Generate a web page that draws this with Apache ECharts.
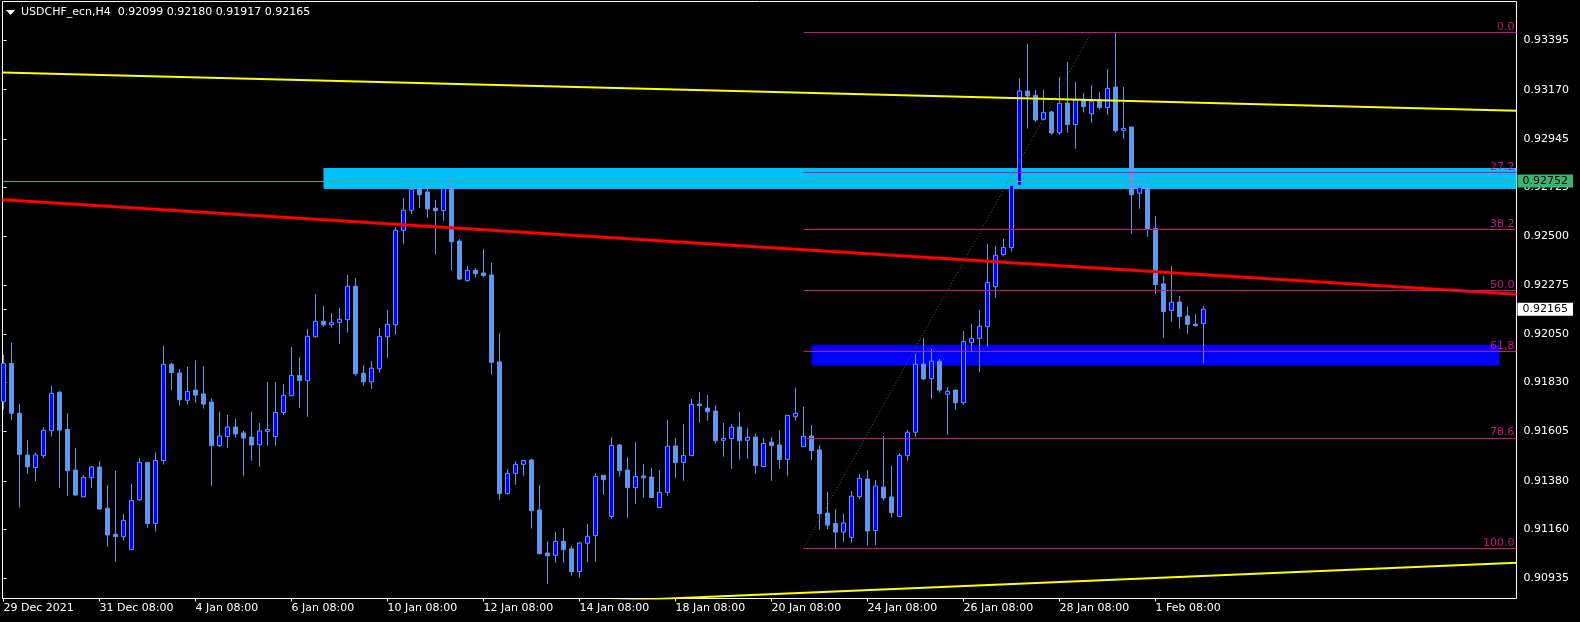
<!DOCTYPE html>
<html><head><meta charset="utf-8">
<script src="https://cdn.jsdelivr.net/npm/echarts@6/dist/echarts.min.js"></script>
<style>html,body{margin:0;padding:0;background:#000;}#c{width:1580px;height:622px;}</style>
</head><body><div id="c"></div>
<script>
// ---------------- DATA ----------------
const symbolTitle = 'USDCHF_ecn,H4';
// x-axis tick labels (every 12th H4 bar)
const timeTickBars = [0, 12, 24, 36, 48, 60, 72, 84, 96, 108, 120, 132, 144];
const timeTickLabels = ['29 Dec 2021', '31 Dec 08:00', '4 Jan 08:00', '6 Jan 08:00', '10 Jan 08:00',
  '12 Jan 08:00', '14 Jan 08:00', '18 Jan 08:00', '20 Jan 08:00', '24 Jan 08:00',
  '26 Jan 08:00', '28 Jan 08:00', '1 Feb 08:00'];
// y-axis tick labels
const priceTicks = [0.93395, 0.93170, 0.92945, 0.92725, 0.92500, 0.92275, 0.92050,
  0.91830, 0.91605, 0.91380, 0.91160, 0.90935];

const opens = [0.91742,0.91917,0.91689,0.91498,0.91440,0.91495,0.91609,0.91785,0.91615,0.91429,
0.91307,0.91394,0.91443,0.91254,0.91135,0.91124,0.91066,0.91293,0.91464,0.91185,
0.91472,0.91913,0.91873,0.91748,0.91795,0.91777,0.91740,0.91541,0.91582,0.91626,
0.91599,0.91580,0.91545,0.91606,0.91582,0.91692,0.91769,0.91862,0.91838,0.92039,
0.92110,0.92094,0.92105,0.92117,0.92270,0.91872,0.91833,0.91893,0.92039,0.92094,
0.92526,0.92618,0.92718,0.92702,0.92628,0.92616,0.92721,0.92477,0.92297,0.92343,
0.92331,0.92322,0.91924,0.91322,0.91414,0.91455,0.91475,0.91246,0.91049,0.91039,
0.91103,0.91068,0.90964,0.91094,0.91129,0.91405,0.91217,0.91544,0.91429,0.91348,
0.91402,0.91397,0.91258,0.91327,0.91539,0.91464,0.91495,0.91731,0.91713,0.91699,
0.91565,0.91573,0.91626,0.91565,0.91580,0.91445,0.91557,0.91544,0.91478,0.91673,
0.91536,0.91585,0.91521,0.91232,0.91184,0.91145,0.91121,0.91307,0.91388,0.91152,
0.91351,0.91306,0.91217,0.91495,0.91602,0.91914,0.91847,0.91927,0.91776,0.91795,
0.91737,0.92012,0.92032,0.92085,0.92268,0.92415,0.92448,0.92732,0.93164,0.93144,
0.93034,0.93068,0.92973,0.93109,0.93010,0.93123,0.93060,0.93123,0.93088,0.93182,
0.92984,0.92999,0.92696,0.92722,0.92535,0.92281,0.92160,0.92198,0.92134,0.92097,
0.92099];
const highs = [0.91956,0.92012,0.91731,0.91566,0.91509,0.91624,0.91814,0.91791,0.91689,0.91530,
0.91406,0.91447,0.91470,0.91361,0.91425,0.91228,0.91365,0.91484,0.91466,0.91510,
0.91997,0.91920,0.91891,0.91901,0.91930,0.91905,0.91756,0.91696,0.91681,0.91663,
0.91608,0.91696,0.91644,0.91832,0.91832,0.91823,0.91992,0.91946,0.92075,0.92235,
0.92180,0.92148,0.92171,0.92322,0.92308,0.91910,0.91928,0.92079,0.92162,0.92540,
0.92674,0.92749,0.92729,0.92718,0.92665,0.92724,0.92787,0.92486,0.92363,0.92354,
0.92441,0.92377,0.92056,0.91434,0.91469,0.91475,0.91480,0.91361,0.91104,0.91145,
0.91164,0.91081,0.91100,0.91182,0.91414,0.91407,0.91580,0.91548,0.91489,0.91557,
0.91457,0.91438,0.91429,0.91658,0.91576,0.91640,0.91754,0.91786,0.91772,0.91727,
0.91644,0.91640,0.91695,0.91620,0.91594,0.91576,0.91580,0.91612,0.91681,0.91806,
0.91718,0.91635,0.91544,0.91329,0.91251,0.91228,0.91333,0.91411,0.91429,0.91383,
0.91585,0.91448,0.91506,0.91612,0.91960,0.92033,0.91983,0.91937,0.91809,0.91797,
0.92065,0.92097,0.92162,0.92464,0.92455,0.92487,0.92741,0.93222,0.93379,0.93169,
0.93169,0.93074,0.93228,0.93297,0.93205,0.93155,0.93191,0.93159,0.93265,0.93432,
0.93182,0.93001,0.92770,0.92743,0.92592,0.92320,0.92363,0.92226,0.92177,0.92143,
0.92180];
const lows = [0.91704,0.91658,0.91257,0.91411,0.91379,0.91484,0.91582,0.91348,0.91312,0.91312,
0.91305,0.91348,0.91246,0.91078,0.91010,0.91106,0.91064,0.91289,0.91165,0.91147,
0.91454,0.91795,0.91724,0.91728,0.91737,0.91710,0.91357,0.91534,0.91531,0.91577,
0.91403,0.91472,0.91444,0.91541,0.91541,0.91681,0.91767,0.91714,0.91673,0.92035,
0.92085,0.92081,0.92007,0.92058,0.91861,0.91815,0.91801,0.91875,0.91943,0.92049,
0.92465,0.92602,0.92628,0.92583,0.92415,0.92570,0.92342,0.92299,0.92291,0.92310,
0.92310,0.91866,0.91293,0.91316,0.91362,0.91403,0.91161,0.91044,0.90909,0.91005,
0.91005,0.90946,0.90936,0.91007,0.91010,0.91316,0.91206,0.91399,0.91211,0.91275,
0.91303,0.91301,0.91256,0.91312,0.91394,0.91380,0.91493,0.91646,0.91655,0.91550,
0.91490,0.91435,0.91477,0.91481,0.91412,0.91441,0.91380,0.91435,0.91403,0.91655,
0.91534,0.91475,0.91155,0.91159,0.91071,0.91101,0.91097,0.91296,0.91083,0.91086,
0.91289,0.91211,0.91215,0.91472,0.91580,0.91841,0.91754,0.91783,0.91591,0.91704,
0.91727,0.91972,0.91878,0.91994,0.92218,0.92406,0.92429,0.92730,0.92992,0.93022,
0.93031,0.92963,0.92964,0.92973,0.92900,0.93065,0.93019,0.93079,0.93054,0.92973,
0.92944,0.92511,0.92625,0.92497,0.92236,0.92035,0.92108,0.92076,0.92053,0.92085,
0.91917];
const closes = [0.91917,0.91689,0.91501,0.91444,0.91498,0.91611,0.91780,0.91612,0.91426,0.91315,
0.91396,0.91443,0.91251,0.91132,0.91124,0.91199,0.91290,0.91464,0.91184,0.91473,
0.91913,0.91875,0.91751,0.91789,0.91772,0.91731,0.91541,0.91585,0.91626,0.91594,
0.91576,0.91544,0.91608,0.91615,0.91693,0.91771,0.91862,0.91838,0.92041,0.92110,
0.92094,0.92105,0.92119,0.92270,0.91870,0.91833,0.91895,0.92041,0.92096,0.92526,
0.92618,0.92714,0.92689,0.92624,0.92616,0.92717,0.92474,0.92303,0.92343,0.92328,
0.92319,0.91922,0.91322,0.91414,0.91455,0.91473,0.91243,0.91046,0.91037,0.91103,
0.91065,0.90964,0.91095,0.91126,0.91400,0.91385,0.91542,0.91426,0.91348,0.91400,
0.91394,0.91303,0.91327,0.91538,0.91463,0.91496,0.91730,0.91724,0.91696,0.91563,
0.91574,0.91625,0.91563,0.91579,0.91449,0.91551,0.91541,0.91477,0.91679,0.91689,
0.91583,0.91518,0.91229,0.91177,0.91145,0.91187,0.91310,0.91391,0.91150,0.91356,
0.91301,0.91234,0.91496,0.91602,0.91913,0.91846,0.91927,0.91795,0.91789,0.91737,
0.92018,0.92032,0.92087,0.92288,0.92412,0.92448,0.92732,0.93164,0.93141,0.93031,
0.93066,0.92972,0.93108,0.93010,0.93123,0.93092,0.93117,0.93088,0.93176,0.92982,
0.92993,0.92689,0.92723,0.92531,0.92278,0.92154,0.92197,0.92131,0.92096,0.92090,
0.92165];

// drawn objects (bar index, price)
const trendUpperYellow = [[0, 0.93248], [150, 0.93110]];
const trendRed = [[0, 0.92666], [150, 0.92323]];
const trendLowerYellow = [[100, 0.90867], [150, 0.90944]];
const horizontalLevel = 0.92752;
const cyanZone = { fromBar: 40, top: 0.92812, bottom: 0.92715 };
const blueZone = { fromBar: 101, toBar: 187, top: 0.92001, bottom: 0.91907 };
const fibAnchor = { lowBar: 100, low: 0.91071, highBar: 136, high: 0.93432 };
const fibRatios = [0, 0.272, 0.382, 0.5, 0.618, 0.786, 1];
const fibLabels = ['0.0', '27.2', '38.2', '50.0', '61,8', '78.6', '100.0'];

// ---------------- LAYOUT ----------------
const X_MIN = -0.125, X_MAX = 189.125;
const Y_MIN = 0.908411, Y_MAX = 0.935735;
const FONT = 'DejaVu Sans';

const candleData = opens.map((o, i) => [i, o, closes[i], lows[i], highs[i]]);
const last = opens.length - 1;

function extend(line) {
  const [[x1, y1], [x2, y2]] = line;
  const k = (y2 - y1) / (x2 - x1);
  return [[X_MIN, y1 + k * (X_MIN - x1)], [X_MAX, y1 + k * (X_MAX - x1)]];
}

const fibRange = fibAnchor.high - fibAnchor.low;
const fibLines = fibRatios.map((r, i) => {
  const v = fibAnchor.high - r * fibRange;
  return [
    { coord: [fibAnchor.lowBar, v], label: { formatter: fibLabels[i] } },
    { coord: [X_MAX, v] }
  ];
});

const priceBoxLabel = (bg) => ({
  show: true, position: 'end', color: '#000', backgroundColor: bg,
  padding: [1, 5, 0, 5], lineHeight: 12, distance: 1, fontFamily: FONT, fontSize: 11
});

const chart = echarts.init(document.getElementById('c'), null, { renderer: 'canvas' });
chart.setOption({
  backgroundColor: '#000',
  animation: false,
  grid: { left: 2.5, top: 1.5, right: 63.5, bottom: 23.5, show: true, borderColor: '#fff', borderWidth: 1, backgroundColor: 'rgba(0,0,0,0)' },
  xAxis: {
    type: 'value', min: X_MIN, max: X_MAX,
    axisLine: { show: false }, splitLine: { show: false },
    axisTick: { show: true, customValues: timeTickBars, length: 3, lineStyle: { color: '#fff' } },
    axisLabel: {
      customValues: timeTickBars,
      formatter: v => timeTickLabels[timeTickBars.indexOf(v)],
      color: '#fff', fontFamily: FONT, fontSize: 11, align: 'left', margin: 4
    }
  },
  yAxis: {
    type: 'value', position: 'right', min: Y_MIN, max: Y_MAX,
    axisLine: { show: false }, splitLine: { show: false },
    axisTick: { show: true, customValues: priceTicks.concat([closes[last]]), length: 3, lineStyle: { color: '#fff' } },
    axisLabel: {
      customValues: priceTicks, formatter: v => v.toFixed(5),
      color: '#fff', fontFamily: FONT, fontSize: 11, margin: 7
    }
  },
  graphic: [
    { type: 'polygon', shape: { points: [[6, 10], [15, 10], [10.5, 15]] }, style: { fill: '#fff' } },
    { type: 'text', left: 21, top: 7, style: {
        text: symbolTitle + '  ' + [opens[last], highs[last], lows[last], closes[last]].map(v => v.toFixed(5)).join(' '),
        fill: '#fff', font: '11px "DejaVu Sans"' } }
  ],
  series: [
    {
      type: 'line', data: [], z: 1, silent: true,
      markArea: {
        silent: true,
        data: [
          [{ xAxis: cyanZone.fromBar, yAxis: cyanZone.top, itemStyle: { color: '#00BFFF', opacity: 1 } }, { xAxis: X_MAX, yAxis: cyanZone.bottom }],
          [{ xAxis: blueZone.fromBar, yAxis: blueZone.top, itemStyle: { color: '#0000FF', opacity: 1 } }, { xAxis: blueZone.toBar, yAxis: blueZone.bottom }]
        ]
      }
    },
    {
      type: 'candlestick', z: 2, silent: true,
      data: candleData,
      encode: { x: 0, y: [1, 2, 3, 4] },
      barWidth: 4,
      itemStyle: { color: '#0000FF', color0: '#6495ED', borderColor: '#6495ED', borderColor0: '#6495ED', borderColorDoji: '#6495ED', borderWidth: 1 }
    },
    { type: 'line', z: 3, silent: true, symbol: 'none', data: extend(trendUpperYellow), lineStyle: { color: '#FFFF00', width: 2 } },
    { type: 'line', z: 3, silent: true, symbol: 'none', data: extend(trendRed), lineStyle: { color: '#FF0000', width: 3 } },
    { type: 'line', z: 3, silent: true, symbol: 'none', data: extend(trendLowerYellow), lineStyle: { color: '#FFFF00', width: 2 } },
    {
      type: 'line', data: [], z: 4, silent: true,
      markLine: {
        silent: true, symbol: ['none', 'none'], animation: false,
        label: { show: true, position: 'insideEndTop', color: '#C71585', fontFamily: FONT, fontSize: 11, distance: [2, 0] },
        lineStyle: { color: '#C71585', width: 1, type: 'solid' },
        data: fibLines.concat([
          [{ coord: [fibAnchor.lowBar, fibAnchor.low], lineStyle: { color: '#3E6A5E', type: [1, 2], width: 1 }, label: { show: false } },
           { coord: [fibAnchor.highBar, fibAnchor.high] }],
          [{ coord: [X_MIN, horizontalLevel], lineStyle: { color: '#3CB371', width: 1, type: 'solid' },
             label: Object.assign(priceBoxLabel('#3CB371'), { formatter: horizontalLevel.toFixed(5) }) },
           { coord: [X_MAX, horizontalLevel] }],
          [{ coord: [X_MIN, closes[last]], lineStyle: { color: 'rgba(0,0,0,0)', width: 1 },
             label: Object.assign(priceBoxLabel('#FFFFFF'), { formatter: closes[last].toFixed(5) }) },
           { coord: [X_MAX, closes[last]] }]
        ])
      }
    }
  ]
});
</script></body></html>
